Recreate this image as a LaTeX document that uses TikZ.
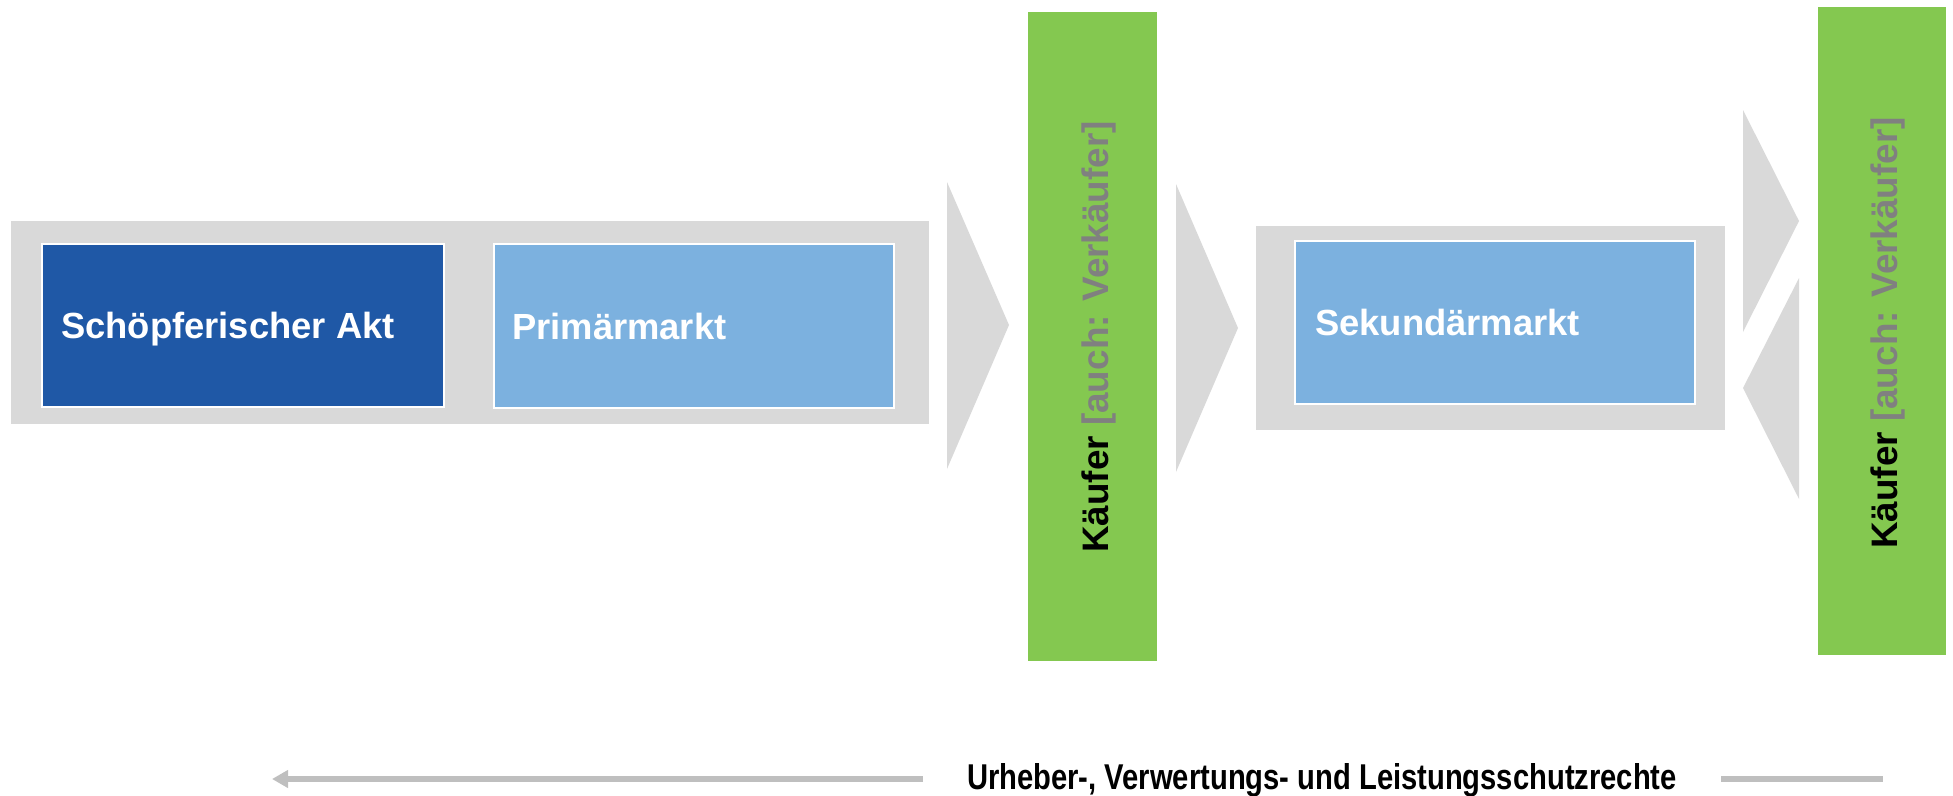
\documentclass[tikz,border=0pt]{standalone}
\usepackage{fontspec}
\setmainfont{Liberation Sans}
\newfontfamily\narrowfont[FakeStretch=0.813]{Liberation Sans}
\usetikzlibrary{arrows.meta}
\definecolor{bandgray}{HTML}{D9D9D9}
\definecolor{darkblue}{HTML}{1F58A6}
\definecolor{lightblue}{HTML}{7CB1DF}
\definecolor{barGreen}{HTML}{84C850}
\definecolor{txtgray}{HTML}{808080}
\definecolor{linegray}{HTML}{BFBFBF}
\tikzset{
  band/.style={fill=bandgray, draw=none, inner sep=0pt, anchor=north west},
  mbox/.style={draw=white, line width=2bp, inner sep=0pt, anchor=north west},
  gbar/.style={fill=barGreen, draw=none, inner sep=0pt, anchor=north west},
  tri/.style={fill=bandgray, draw=none},
  boxlbl/.style={text=white, font=\fontsize{36.5}{44}\selectfont\bfseries, anchor=base west, inner sep=0pt},
  barlbl/.style={font=\fontsize{37}{44}\selectfont\bfseries, anchor=base, rotate=90, inner sep=0pt},
  rightslbl/.style={font=\narrowfont\fontsize{36}{42}\selectfont\bfseries, anchor=base, inner sep=0pt},
  rline/.style={draw=linegray, line width=6bp}
}
\begin{document}
\begin{tikzpicture}[x=1bp,y=-1bp]
\useasboundingbox (0,0) rectangle (1953,796);
% bands
\node[band, minimum width=918bp, minimum height=203bp] (band1) at (11,221) {};
\node[band, minimum width=469bp, minimum height=204bp] (band2) at (1256,226) {};
% boxes
\node[mbox, fill=darkblue, minimum width=402bp, minimum height=163bp] (akt) at (41,243) {};
\node[mbox, fill=lightblue, minimum width=400bp, minimum height=164bp] (prim) at (493,243) {};
\node[mbox, fill=lightblue, minimum width=400bp, minimum height=163bp] (sek) at (1294,240) {};
\node[boxlbl] (aktlbl) at (61,338) {Schöpferischer Akt};
\node[boxlbl] (primlbl) at (512,339) {Primärmarkt};
\node[boxlbl] (seklbl) at (1315,335) {Sekundärmarkt};
% triangles
\fill[tri] (947,182) -- (1009,325) -- (947,469) -- cycle;
\fill[tri] (1176,184) -- (1238,328) -- (1176,472) -- cycle;
\fill[tri] (1743,110) -- (1799,221) -- (1743,332) -- cycle;
\fill[tri] (1799,278) -- (1743,388) -- (1799,499) -- cycle;
% green bars
\node[gbar, minimum width=129bp, minimum height=649bp] (bar1) at (1028,12) {};
\node[gbar, minimum width=128bp, minimum height=648bp] (bar2) at (1818,7) {};
\node[barlbl] (bar1lbl) at (1108,337) {Käufer \textcolor{txtgray}{[auch: Verkäufer]}};
\node[barlbl] (bar2lbl) at (1897,333) {Käufer \textcolor{txtgray}{[auch: Verkäufer]}};
% rights arrow
\node[rightslbl] (rights) at (1322,789) {Urheber-, Verwertungs- und Leistungsschutzrechte};
\coordinate (lstart) at (923,779);
\coordinate (ltip) at (272,779);
\coordinate (rstart) at (1721,779);
\coordinate (rend) at (1883,779);
\draw[rline, -{Triangle[length=16bp,width=17bp]}] (lstart) -- (ltip);
\draw[rline] (rstart) -- (rend);
\end{tikzpicture}
\end{document}
